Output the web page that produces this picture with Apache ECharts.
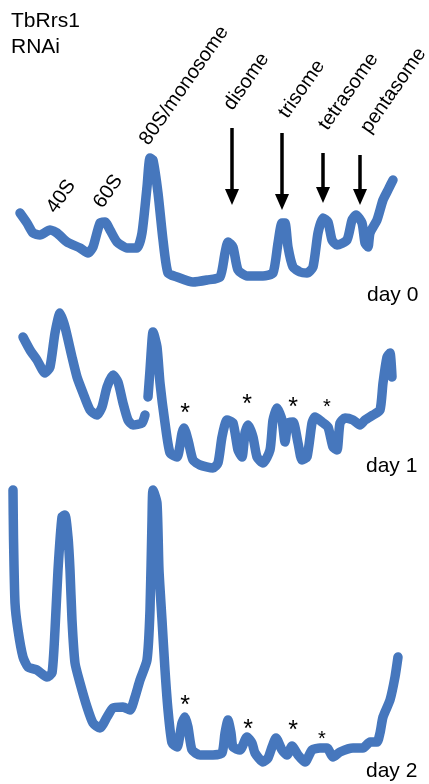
<!DOCTYPE html>
<html>
<head>
<meta charset="utf-8">
<script src="https://cdn.jsdelivr.net/npm/echarts@6/dist/echarts.min.js"></script>
<style>
html,body{margin:0;padding:0;background:#fff;}
#chart{width:429px;height:784px;}
</style>
</head>
<body>
<div id="chart"></div>
<script>
// Gradient position (ml) and absorbance (A254, arbitrary units) for each profile
var day0X = [2.0,2.7,3.3,4.0,5.0,5.7,6.7,8.0,8.8,9.3,10.0,10.5,11.0,11.7,12.7,13.7,14.2,14.7,15.0,15.3,15.8,16.3,16.8,17.7,19.3,20.7,22.0,22.5,22.8,23.3,23.8,24.7,26.3,27.3,27.8,28.2,28.5,28.8,29.3,30.0,30.7,31.3,31.8,32.3,32.8,33.2,33.7,34.7,35.2,35.6,36.2,36.5,36.8,37.0,37.7,38.3,38.8,39.3];
var day0A = [0.77,0.67,0.57,0.55,0.60,0.57,0.48,0.42,0.37,0.43,0.67,0.68,0.60,0.48,0.42,0.42,0.57,1.03,1.32,1.30,0.97,0.50,0.17,0.13,0.08,0.10,0.13,0.37,0.48,0.43,0.20,0.14,0.14,0.17,0.47,0.67,0.67,0.43,0.23,0.18,0.17,0.23,0.57,0.72,0.68,0.50,0.45,0.50,0.70,0.75,0.67,0.47,0.43,0.57,0.70,0.90,1.00,1.10];

var day1X = [2.3,3.0,3.7,4.5,5.0,5.5,6.0,6.5,7.2,7.7,8.3,9.0,9.7,10.2,10.7,11.3,11.8,12.3,12.8,13.3,14.2,14.5,14.65,14.8,15.0,15.2,15.3,15.7,16.0,16.5,17.0,17.7,18.2,18.4,18.8,19.3,20.0,21.3,21.8,22.2,22.7,23.3,23.8,24.2,24.5,24.8,25.3,25.7,26.3,27.0,27.3,27.7,28.2,28.5,28.8,29.3,29.8,30.2,30.7,31.2,31.5,32.2,32.8,33.3,33.7,34.0,34.5,35.3,36.0,36.5,37.3,38.0,38.3,38.7,39.0,39.2];
var day1A = [1.38,1.25,1.15,1.02,1.08,1.42,1.62,1.48,1.18,0.98,0.82,0.65,0.60,0.68,0.88,1.00,0.93,0.72,0.55,0.50,0.52,0.60,null,0.78,1.05,1.35,1.43,1.28,0.92,0.52,0.22,0.18,0.42,0.47,0.35,0.15,0.10,0.07,0.12,0.38,0.55,0.52,0.25,0.18,0.42,0.50,0.38,0.18,0.12,0.25,0.55,0.67,0.55,0.33,0.52,0.53,0.32,0.15,0.18,0.52,0.58,0.53,0.48,0.28,0.25,0.52,0.57,0.55,0.50,0.55,0.60,0.65,0.92,1.18,1.22,0.98];

var day2X = [1.3,1.35,1.5,1.8,2.3,2.8,3.7,4.7,5.2,5.5,5.8,6.2,6.5,6.8,7.0,7.2,7.5,8.0,8.7,9.3,10.0,10.7,11.3,12.3,13.0,13.5,14.0,14.7,15.0,15.2,15.3,15.7,15.9,16.2,16.5,16.8,17.2,17.7,18.2,18.5,18.8,19.2,20.0,21.3,22.2,22.5,22.8,23.1,23.3,24.0,24.7,25.2,25.5,26.3,26.8,27.2,27.6,28.2,28.7,29.2,29.8,30.5,31.2,32.0,32.7,33.3,34.0,35.3,36.3,37.0,37.7,38.0,38.3,39.0,39.5,39.8];
var day2A = [2.80,2.33,1.67,1.40,1.13,1.03,1.00,0.93,0.97,1.40,2.00,2.53,2.55,2.33,2.00,1.50,1.07,0.87,0.63,0.47,0.42,0.53,0.62,0.63,0.60,0.73,0.90,1.10,1.60,2.50,2.80,2.67,2.00,1.50,1.00,0.60,0.27,0.23,0.47,0.53,0.43,0.20,0.15,0.15,0.17,0.37,0.50,0.37,0.23,0.20,0.33,0.27,0.17,0.08,0.12,0.23,0.32,0.20,0.15,0.24,0.15,0.08,0.20,0.22,0.22,0.13,0.18,0.22,0.22,0.28,0.28,0.37,0.53,0.70,0.93,1.13];

// Arrows (day 0): position and absorbance of arrow top and tip
var arrowX    = [23.2, 28.2, 32.3, 36.0];
var arrowTopA = [1.62, 1.57, 1.37, 1.35];
var arrowTipA = [0.85, 0.80, 0.87, 0.85];

var peakLabels = ['40S','60S','80S/monosome','disome','trisome','tetrasome','pentasome'];
var dayLabels = ['day 0','day 1','day 2'];

var BLUE = '#4677bd';
function pairs(xs, ys){ return xs.map(function(x,i){ return [x, ys[i]]; }); }

var chart = echarts.init(document.getElementById('chart'), null, {renderer:'canvas'});

var grids = [
  {left:0, right:0, top:20, height:270},
  {left:0, right:0, top:305, height:170},
  {left:0, right:0, top:480, height:290}
];
var yMax = [2.7, 1.7, 2.9];

var xAxes = grids.map(function(g,i){ return {type:'value', gridIndex:i, min:0, max:42.9, show:false}; });
var yAxes = grids.map(function(g,i){ return {type:'value', gridIndex:i, min:0, max:yMax[i], show:false}; });

function lineSeries(i, data){
  return {
    type:'line', xAxisIndex:i, yAxisIndex:i, data:data,
    showSymbol:false, smooth:0.2, connectNulls:false, silent:true, animation:false,
    lineStyle:{color:BLUE, width:9.5, cap:'round', join:'round'}
  };
}

chart.setOption({
  backgroundColor:'#fff',
  animation:false,
  grid: grids,
  xAxis: xAxes,
  yAxis: yAxes,
  series: [
    lineSeries(0, pairs(day0X, day0A)),
    lineSeries(1, pairs(day1X, day1A)),
    lineSeries(2, pairs(day2X, day2A))
  ]
});

var FONT = '"Liberation Sans", Arial, sans-serif';
var g = [];
function txt(s, x, y, opt){
  opt = opt || {};
  g.push({
    type:'text', x:x, y:y, rotation: opt.rot || 0, silent:true,
    style:{text:s, fill:'#000', font: (opt.size||20) + 'px ' + FONT,
           align: opt.align || 'left', verticalAlign: opt.va || 'middle'}
  });
}
// header
txt('TbRrs1', 11, 21, {size:21});
txt('RNAi', 11, 47, {size:21});
// rotated peak labels
var rot = 55 * Math.PI / 180;
var lblPos = [[51,211],[98,206],[144,143],[228,108],[283,116],[323,128],[365,131]];
peakLabels.forEach(function(s,i){ txt(s, lblPos[i][0], lblPos[i][1], {rot:rot}); });
// day labels
txt(dayLabels[0], 367, 295, {size:21});
txt(dayLabels[1], 366, 466, {size:21});
txt(dayLabels[2], 366, 771, {size:21});
// asterisks
[[185,414,25],[247,405,25],[293,408,25],[327,407,20],
 [185,706,25],[248,730,25],[293,731,25],[322,739,20]].forEach(function(a){
  txt('*', a[0], a[1], {align:'center', size:a[2]});
});
// arrows
arrowX.forEach(function(x,i){
  var p1 = chart.convertToPixel({gridIndex:0}, [x, arrowTopA[i]]);
  var p2 = chart.convertToPixel({gridIndex:0}, [x, arrowTipA[i]]);
  var head = 16, hw = 7;
  g.push({type:'line', silent:true, shape:{x1:p1[0], y1:p1[1], x2:p2[0], y2:p2[1]-head+2},
          style:{stroke:'#000', lineWidth:3.5}});
  g.push({type:'polygon', silent:true,
          shape:{points:[[p2[0]-hw, p2[1]-head],[p2[0]+hw, p2[1]-head],[p2[0], p2[1]]]},
          style:{fill:'#000'}});
});
chart.setOption({graphic: g});
</script>
</body>
</html>
